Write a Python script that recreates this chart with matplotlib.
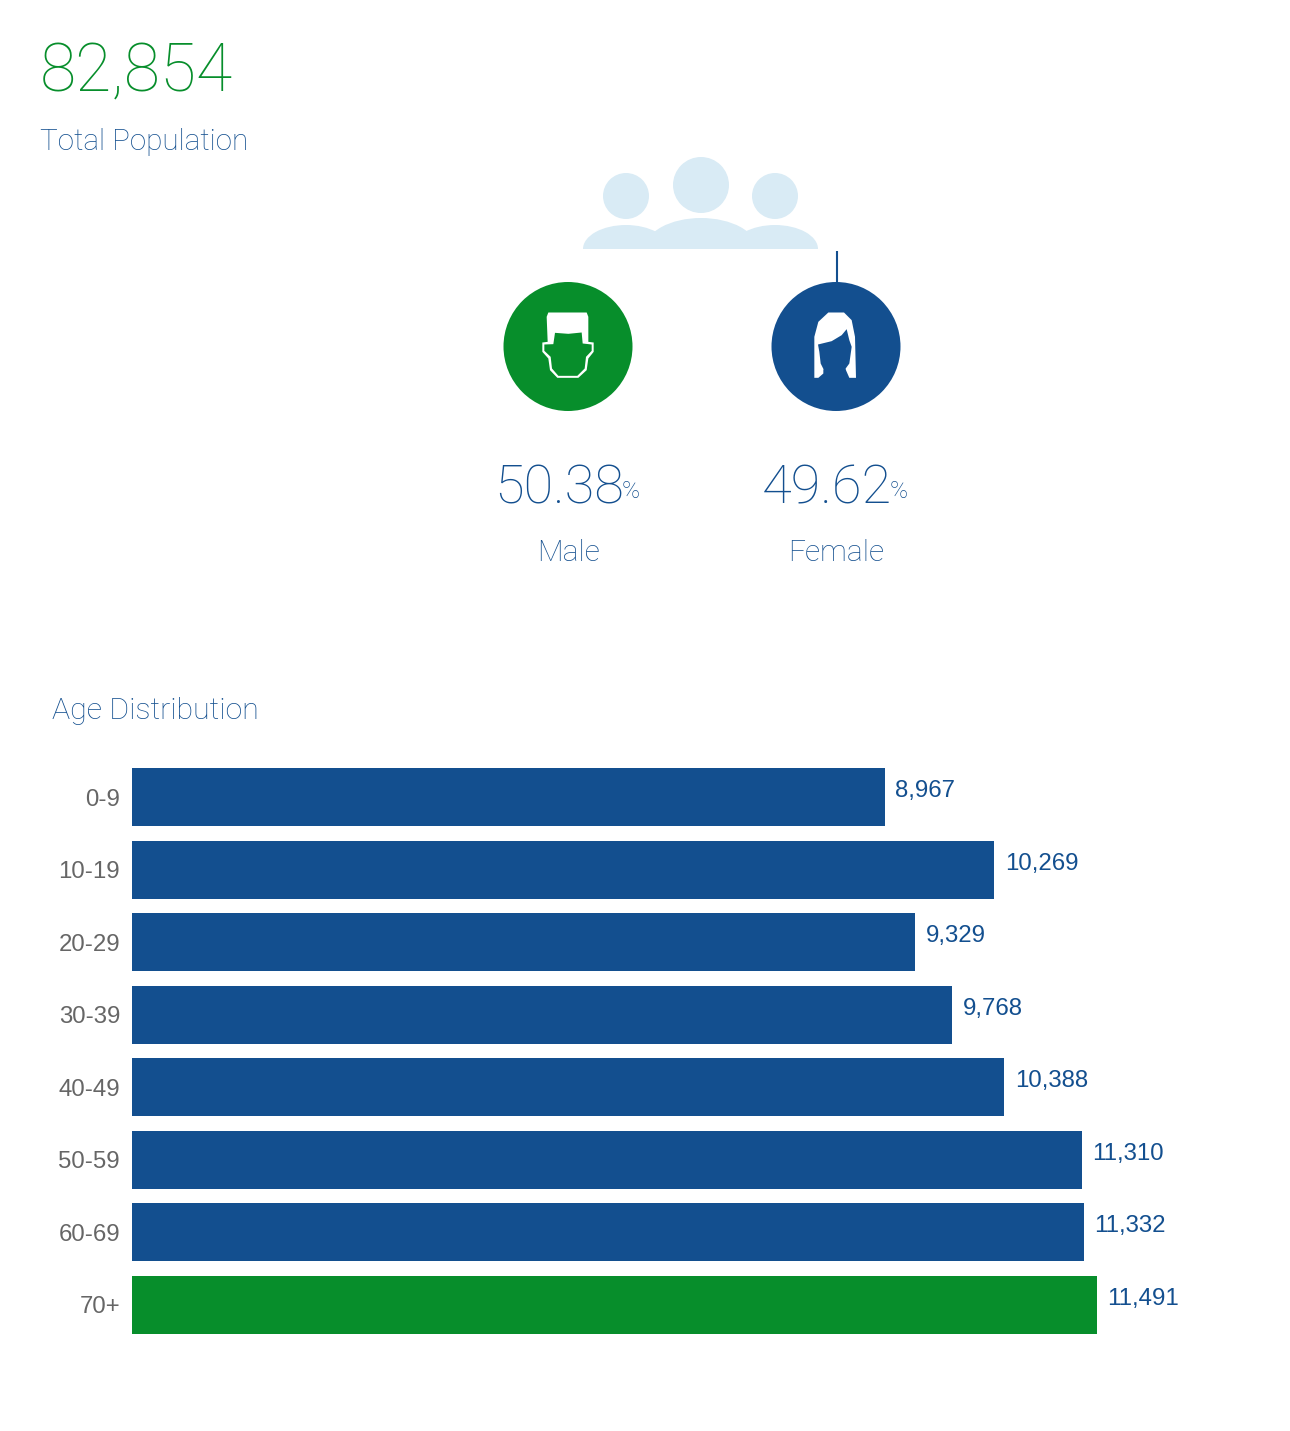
import matplotlib
matplotlib.use("Agg")
import matplotlib.pyplot as plt
from matplotlib.patches import Circle, Ellipse, Polygon, Rectangle

groups = ["0-9", "10-19", "20-29", "30-39", "40-49", "50-59", "60-69", "70+"]
population = [8967, 10269, 9329, 9768, 10388, 11310, 11332, 11491]
total_population = "82,854"
male_share = "50.38"
female_share = "49.62"

BLUE = "#134f8f"
GREEN = "#078e2b"
PALE = "#d9ebf5"
TEXT_BLUE = "#134f8f"
W, H = 1290, 1431

plt.rcParams["font.family"] = ["Roboto", "DejaVu Sans"]

fig = plt.figure(figsize=(W / 100, H / 100), dpi=100)

# whole figure in pixels, for the header and icons
bg = fig.add_axes([0, 0, 1, 1])
bg.set_xlim(0, W)
bg.set_ylim(H, 0)
bg.axis("off")

bg.text(40, 91, total_population, color=GREEN, fontsize=47.5, weight="light", va="baseline")
bg.text(40, 150, "Total Population", color=TEXT_BLUE, fontsize=21.3, weight="light", va="baseline")
bg.text(52, 719, "Age Distribution", color=TEXT_BLUE, fontsize=21.9, weight="light", va="baseline")

# people icon
clip = Rectangle((570, 150), 260, 99, transform=bg.transData)
for cx, cy, r in [(626, 196, 23), (775, 196, 23), (701, 185, 28)]:
    bg.add_patch(Circle((cx, cy), r, color=PALE, lw=0))
for cx, wd, ht in [(626, 86, 48), (775, 86, 48), (701, 112, 62)]:
    body = Ellipse((cx, 249), wd, ht, color=PALE, lw=0)
    bg.add_patch(body)
    body.set_clip_path(clip)

bg.plot([836.5, 836.5], [251, 283], color=BLUE, lw=1.5, solid_capstyle="butt")
bg.add_patch(Circle((568, 346.5), 64.5, color=GREEN, lw=0))
bg.add_patch(Circle((836, 346.5), 64.5, color=BLUE, lw=0))


def shape(pts, x0, colour):
    xy = [(x0 + (x - 264) / 3, 346.5 + (y - 589) / 3) for x, y in pts]
    bg.add_patch(Polygon(xy, closed=True, color=colour, lw=0))


# male face
shape([(205, 487), (320, 487), (325, 500), (325, 575), (341, 577), (341, 605), (325, 625),
       (320, 660), (295, 683), (232, 683), (210, 660), (205, 625), (187, 605), (187, 577),
       (203, 575), (200, 500)], 568, "white")
shape([(225, 548), (265, 551), (305, 547), (308, 580), (335, 583), (335, 602), (318, 620),
       (314, 655), (292, 677), (235, 677), (216, 655), (212, 620), (193, 602), (193, 583),
       (220, 582)], 568, GREEN)

# female face, same crop so shift x by the 804 between the two circles
fem_hair = [(1045, 487), (1092, 487), (1115, 510), (1125, 560), (1128, 683), (1108, 683),
            (1097, 658), (1030, 658), (1030, 670), (1015, 683), (1003, 683), (1003, 560),
            (1015, 515)]
fem_face = [(1100, 537), (1085, 555), (1055, 573), (1014, 583), (1018, 605), (1022, 640),
            (1032, 660), (1032, 700), (1097, 700), (1097, 655), (1108, 640), (1115, 590),
            (1108, 570)]
shape([(x - 804, y) for x, y in fem_hair], 836, "white")
shape([(x - 804, y) for x, y in fem_face], 836, BLUE)

# share numbers
for x0, share, name in [(494, male_share, "Male"), (762, female_share, "Female")]:
    bg.text(x0, 503, share, color=TEXT_BLUE, fontsize=39, weight="light", va="baseline")
    bg.text(x0 + 128, 498, "%", color=TEXT_BLUE, fontsize=17.5, weight="light", va="baseline")
    bg.text(x0 + 74, 561, name, color=TEXT_BLUE, fontsize=21.5, weight="light", va="baseline", ha="center")

# bar chart
ax = fig.add_axes([132 / W, 1 - 1341 / H, (W - 132) / W, (1341 - 760.75) / H])
ax.patch.set_alpha(0)
colors = [BLUE] * (len(groups) - 1) + [GREEN]
bars = ax.barh(groups, population, height=0.8, color=colors)
ax.set_xlim(0, (W - 132) * 11491 / 965)
ax.set_ylim(7.5, -0.5)
ax.xaxis.set_visible(False)
for s in ax.spines.values():
    s.set_visible(False)
ax.tick_params(axis="y", length=0, pad=8.6)
for lab in ax.get_yticklabels():
    lab.set_fontfamily("Liberation Sans")
    lab.set_fontsize(17.3)
    lab.set_color("#666666")

for bar, val in zip(bars, population):
    ax.annotate(f"{val:,}", (val, bar.get_y() + bar.get_height() / 2), xytext=(7.5, 4.3),
                textcoords="offset points", va="center", ha="left", color=TEXT_BLUE,
                fontsize=17.3, family="Liberation Sans")

fig.savefig("out.png", dpi=100)
